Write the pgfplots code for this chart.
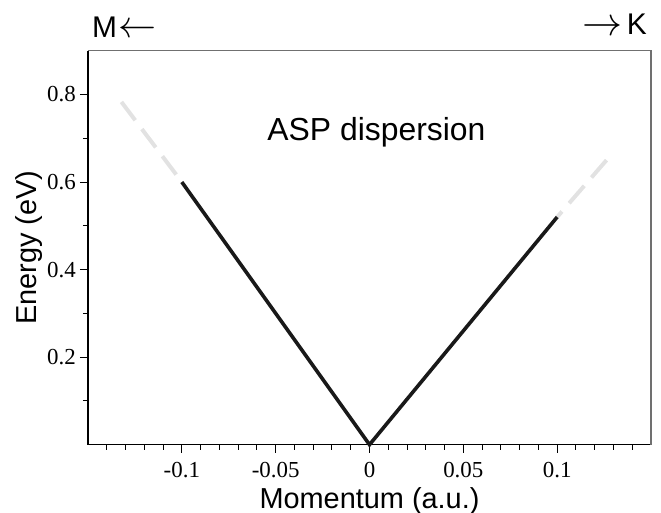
\documentclass[border=0pt]{standalone}
\usepackage{fontspec}
\usepackage{graphicx}
\setmainfont{Liberation Serif}
\newfontfamily\arial{Liberation Sans}
\usepackage{pgfplots}
\pgfplotsset{compat=1.18}
\definecolor{lightdash}{HTML}{E2E2E2}
\definecolor{frameg}{HTML}{707070}
\begin{document}
\begin{tikzpicture}
\begin{axis}[
  scale only axis,
  width=563bp, height=394bp,
  xmin=-0.15, xmax=0.15, ymin=0, ymax=0.9,
  axis line style={draw=none},
  clip=false,
  tick align=outside,
  xtick pos=bottom, ytick pos=left,
  xtick={-0.1,-0.05,0,0.05,0.1},
  xticklabels={-0.1,-0.05,0,0.05,0.1},
  minor xtick={-0.14,-0.13,-0.12,-0.11,-0.09,-0.08,-0.07,-0.06,-0.04,-0.03,-0.02,-0.01,0.01,0.02,0.03,0.04,0.06,0.07,0.08,0.09,0.11,0.12,0.13,0.14},
  ytick={0.2,0.4,0.6,0.8},
  yticklabels={0.2,0.4,0.6,0.8},
  minor ytick={0.1,0.3,0.5,0.7},
  major tick length=8bp, minor tick length=5bp,
  every tick/.style={black, line width=1bp},
  tick label style={font=\fontsize{23}{27}\selectfont, inner sep=0pt},
  xticklabel style={anchor=north, yshift=-9bp},
  yticklabel style={anchor=east, xshift=-4bp},
  xlabel={Momentum (a.u.)},
  ylabel={Energy (eV)},
  label style={font=\arial\fontsize{29}{33}\selectfont},
  xlabel style={at={(axis description cs:0.5,-0.1607)}, anchor=base},
  ylabel style={at={(axis description cs:-0.0911,0.5)}, anchor=base},
]
\draw[black, line width=1.5bp] (rel axis cs:0,1) -- (rel axis cs:0,0) -- (rel axis cs:1,0);
\draw[frameg, line width=1.2bp] (rel axis cs:0,1) -- (rel axis cs:1,1) -- (rel axis cs:1,0);
\addplot[lightdash, line width=4bp, dash pattern=on 23bp off 11bp] coordinates {(-0.1322,0.783) (-0.1,0.6)};
\addplot[lightdash, line width=4bp, dash pattern=on 23bp off 11bp] coordinates {(0.1263,0.65) (0.1,0.52)};
\addplot[black!90, line width=3.6bp, miter limit=10] coordinates {(-0.1,0.6) (0,0) (0.1,0.52)};
\node[anchor=base, font=\arial\fontsize{32}{36}\selectfont] at (axis cs:0.0037,0.696) {ASP dispersion};
\node[anchor=base west, inner sep=0pt, font=\arial\fontsize{30}{34}\selectfont] at ([xshift=4bp,yshift=12.7bp]rel axis cs:0,1) {M\kern1bp\raisebox{0.5bp}{\resizebox{38bp}{!}{$\leftarrow$}}};
\node[anchor=base east, inner sep=0pt, font=\arial\fontsize{30}{34}\selectfont] at ([xshift=-4bp,yshift=15.7bp]rel axis cs:1,1) {\raisebox{-1bp}{\resizebox{40bp}{!}{$\rightarrow$}}\kern4bp K};
\coordinate (sw) at (rel axis cs:0,0);
\coordinate (ne) at (rel axis cs:1,1);
\end{axis}
\pgfresetboundingbox
\path ([shift={(-88bp,-68.3bp)}]sw) rectangle ([shift={(10bp,50.7bp)}]ne);
\end{tikzpicture}
\end{document}
